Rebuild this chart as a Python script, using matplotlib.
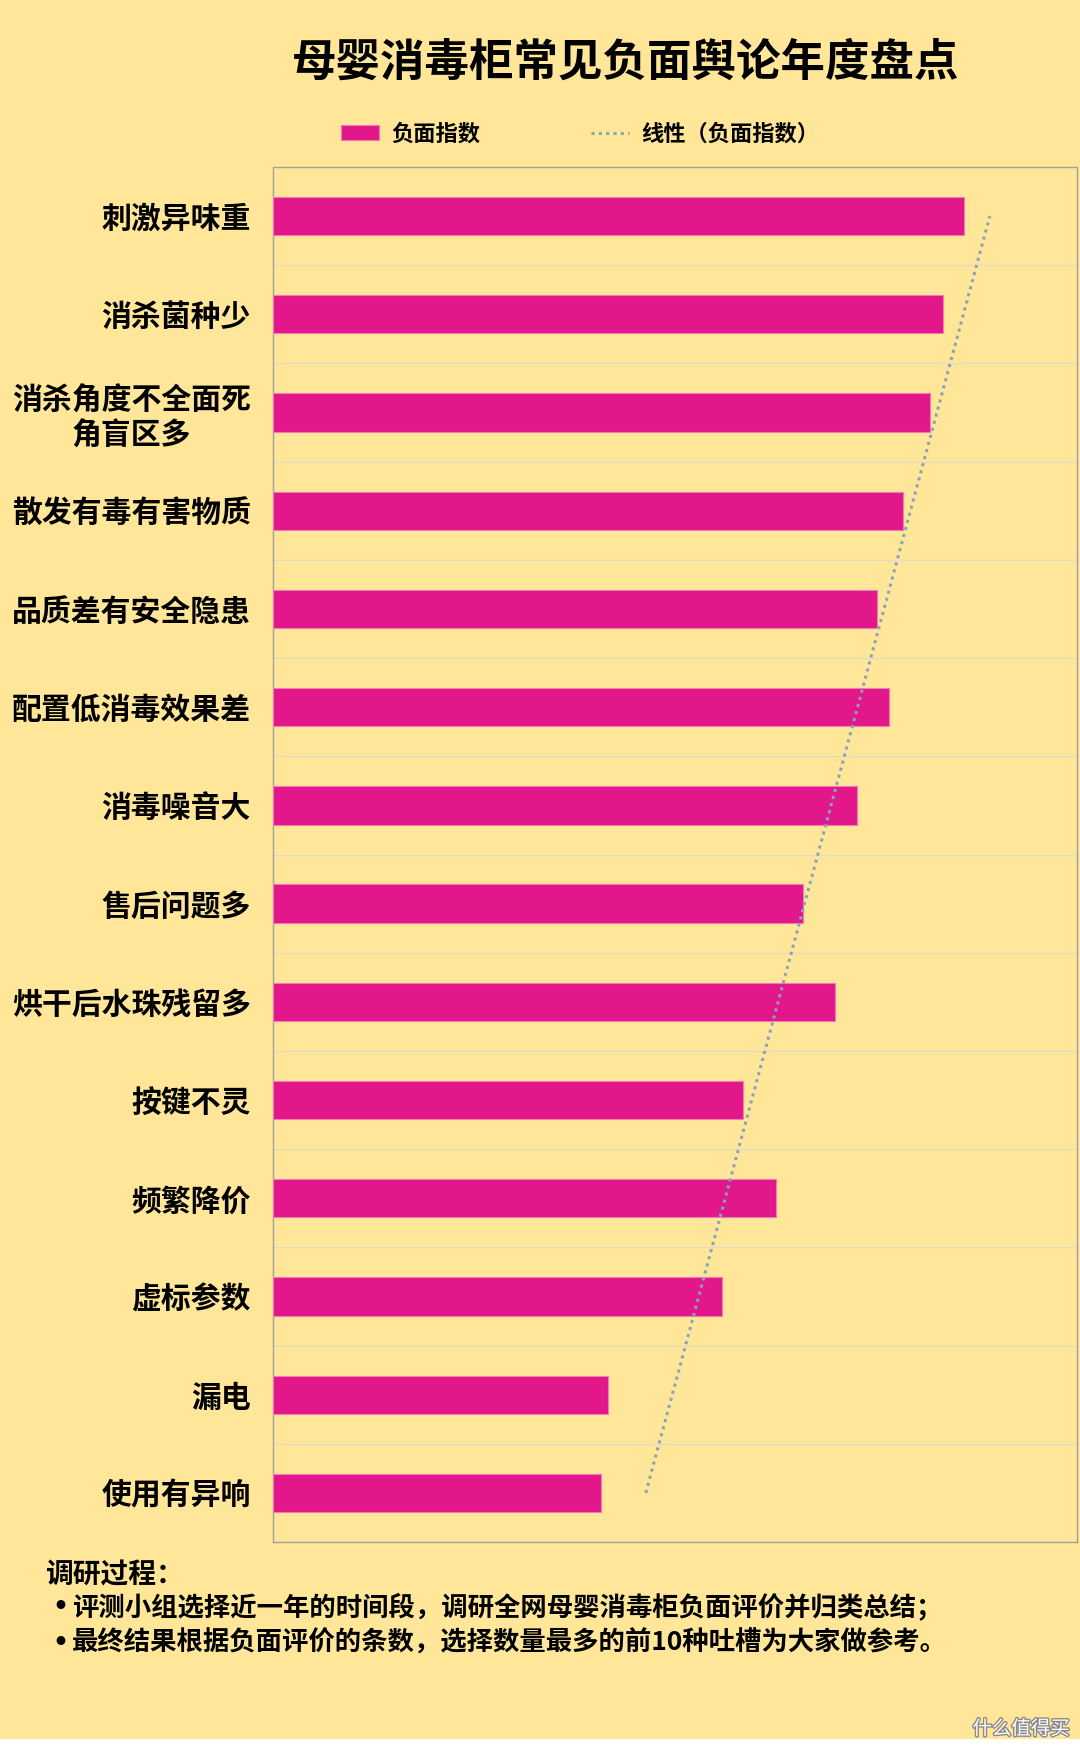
import numpy as np
import matplotlib
matplotlib.use("Agg")
import matplotlib.pyplot as plt
from matplotlib.patches import Rectangle
import matplotlib.patheffects as pe

plt.rcParams['font.family'] = ['Noto Sans CJK SC', 'DejaVu Sans']

title = "母婴消毒柜常见负面舆论年度盘点"
categories = ["刺激异味重", "消杀菌种少", "消杀角度不全面死\n角盲区多", "散发有毒有害物质",
              "品质差有安全隐患", "配置低消毒效果差", "消毒噪音大", "售后问题多",
              "烘干后水珠残留多", "按键不灵", "频繁降价", "虚标参数", "漏电", "使用有异响"]
values = [85.9, 83.3, 81.7, 78.4, 75.1, 76.6, 72.6, 65.9, 69.9, 58.4, 62.5, 55.9, 41.7, 40.8]
series_name = "负面指数"
trend_name = "线性（负面指数）"
note_title = "调研过程："
notes = ["评测小组选择近一年的时间段，调研全网母婴消毒柜负面评价并归类总结；",
         "最终结果根据负面评价的条数，选择数量最多的前10种吐槽为大家做参考。"]
watermark = "什么值得买"

W, H = 1080, 1753
fig = plt.figure(figsize=(W / 100, H / 100), dpi=100, facecolor='white')
fig.patches.append(Rectangle((0, 14 / H), 1, 1 - 14 / H, transform=fig.transFigure,
                             facecolor='#FFE699', edgecolor='none', zorder=-10))

ax = fig.add_axes([273 / W, 1 - 1542 / H, 804 / W, 1375 / H])
ax.set_facecolor('#FFE699')
n = len(categories)
ypos = np.arange(n)[::-1]

bars = ax.barh(ypos, values, height=0.39, color='#E2178A', edgecolor='#F27AB3',
               linewidth=0.8, zorder=3, label=series_name)

# linear trend (Excel style: x = 1..n from bottom)
xs = np.arange(1, n + 1)
vals_bottom_up = np.array(values[::-1])
k, b = np.polyfit(xs, vals_bottom_up, 1)
fit = k * xs + b
trend, = ax.plot(fit, xs - 1, linestyle=(0, (1, 1.4)), color='#8AA2BC', linewidth=2.2,
                 zorder=4, label=trend_name)

ax.set_xlim(0, 100)
ax.set_ylim(-0.5, n - 0.5)
ax.set_xticks([])
ax.set_yticks(ypos)
ax.set_yticklabels(categories, fontsize=21.5, fontweight='bold', color='black',
                   multialignment='center', linespacing=1.2)
ax.tick_params(axis='y', length=0, pad=16)
for yb in np.arange(n - 1) + 0.5:
    ax.axhline(yb, color='#E3DCC4', linewidth=1.0, zorder=1)
for s in ax.spines.values():
    s.set_linestyle((0, (1, 1)))
    s.set_color('#A0A0A0')
    s.set_linewidth(1.0)

fig.text(626 / W, 1 - 63 / H, title, fontsize=32, fontweight='bold', ha='center',
         va='center', color='black')

fig.legend(handles=[bars, trend], labels=[series_name, trend_name], loc='center',
           bbox_to_anchor=(580 / W, 1 - 134 / H), ncol=2, frameon=False,
           prop={'size': 16, 'weight': 'bold'}, handlelength=1.7, handleheight=0.63,
           handletextpad=0.55, columnspacing=5.0)

fig.text(45 / W, 1 - 1575 / H, note_title, fontsize=20, fontweight='bold', ha='left',
         va='center', color='black')
for i, t in enumerate(notes):
    yy = 1 - (1607 + 36 * i) / H
    fig.text(52 / W, yy, "•", fontsize=18, fontweight='bold', ha='left', va='center',
             color='black', family=['DejaVu Sans'])
    fig.text(72 / W, yy, t, fontsize=19, fontweight='bold', ha='left', va='center',
             color='black')

fig.text(1070 / W, 1 - 1729 / H, watermark, fontsize=14, ha='right', va='center',
         color='white', path_effects=[pe.withStroke(linewidth=2, foreground='#8a8a8a')])

fig.savefig("out.png", dpi=100, facecolor=fig.get_facecolor())
